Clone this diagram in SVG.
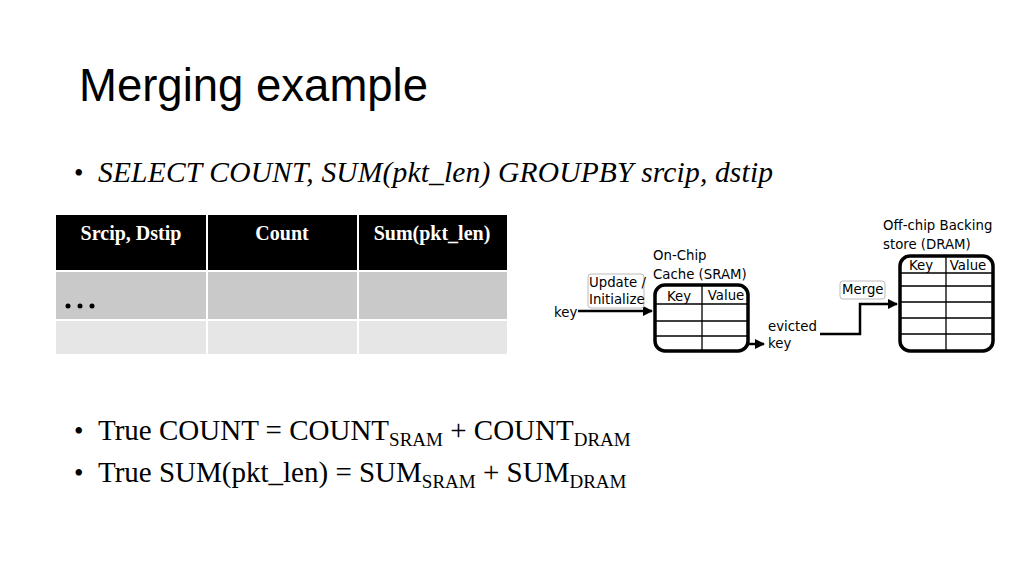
<svg xmlns="http://www.w3.org/2000/svg" width="1024" height="576" viewBox="0 0 1024 576">
<style>
.t{font-family:"Liberation Serif",serif;fill:#000}
.s{font-family:"DejaVu Sans","Noto Sans",sans-serif;font-size:13.3px;fill:#000}
.box{fill:#fff;stroke:#000;stroke-width:3.5}
.g{stroke:#000;stroke-width:1.3}
.c{stroke:#000;stroke-width:2.5;fill:none}
.lbl{fill:#fff;stroke:#bbb;stroke-width:1}
</style>
<defs><marker id="a" viewBox="0 0 10 10" refX="9" refY="5" markerWidth="4" markerHeight="4" orient="auto"><path d="M0 0L10 5L0 10z"/></marker></defs>
<rect width="1024" height="576" fill="#fff"/>
<text x="79" y="101" font-family="'Liberation Sans',sans-serif" font-size="45.5">Merging example</text>
<text x="74" y="182" class="t" font-size="27">•</text>
<text x="98" y="182" class="t" font-size="29.5" font-style="italic" textLength="675">SELECT COUNT, SUM(pkt_len) GROUPBY srcip, dstip</text>
<g id="table">
<rect x="56" y="215" width="150" height="55" fill="#000"/><rect x="208" y="215" width="149" height="55" fill="#000"/><rect x="359" y="215" width="148" height="55" fill="#000"/>
<rect x="56" y="272" width="150" height="47" fill="#c9c9c9"/><rect x="208" y="272" width="149" height="47" fill="#c9c9c9"/><rect x="359" y="272" width="148" height="47" fill="#c9c9c9"/>
<rect x="56" y="321" width="150" height="33" fill="#e6e6e6"/><rect x="208" y="321" width="149" height="33" fill="#e6e6e6"/><rect x="359" y="321" width="148" height="33" fill="#e6e6e6"/>
<g class="t" font-size="20" font-weight="bold" text-anchor="middle"><text x="131" y="240" fill="#fff">Srcip, Dstip</text><text x="282" y="240" fill="#fff">Count</text><text x="432" y="240" fill="#fff">Sum(pkt_len)</text></g>
<g fill="#000"><circle cx="68" cy="306" r="2.5"/><circle cx="80" cy="306" r="2.5"/><circle cx="92" cy="306" r="2.5"/></g>
</g>
<g id="sram">
<text x="653" y="260" class="s">On-Chip</text><text x="653" y="279" class="s">Cache (SRAM)</text>
<rect x="655" y="285" width="93" height="66" rx="10" class="box"/>
<path class="g" d="M702 285V351M655 304H748M655 321H748M655 336H748"/>
<text x="679" y="301" class="s" text-anchor="middle">Key</text><text x="726" y="300" class="s" text-anchor="middle">Value</text>
</g>
<g id="dram">
<text x="883" y="230" class="s">Off-chip Backing</text><text x="883" y="249" class="s">store (DRAM)</text>
<rect x="900" y="256" width="93" height="95" rx="10" class="box"/>
<path class="g" d="M946 256V351M900 273H993M900 286H993M900 302H993M900 318H993M900 334H993"/>
<text x="921" y="270" class="s" text-anchor="middle">Key</text><text x="968" y="270" class="s" text-anchor="middle">Value</text>
</g>
<g id="connectors">
<path class="c" d="M578 311H652" marker-end="url(#a)"/>
<path class="c" d="M746 344H764" marker-end="url(#a)"/>
<path class="c" d="M820 334H860V304H897" marker-end="url(#a)"/>
</g>
<g id="labels">
<text x="554" y="317" class="s">key</text>
<rect x="588" y="274" width="56" height="34" rx="3" class="lbl"/>
<text x="589" y="287" class="s">Update /</text><text x="589" y="304" class="s">Initialize</text>
<rect x="840" y="281" width="45" height="18" rx="3" class="lbl"/>
<text x="842" y="294" class="s">Merge</text>
<text x="768" y="331" class="s">evicted</text><text x="768" y="348" class="s">key</text>
</g>
<text x="74" y="440" class="t" font-size="27">•</text>
<text x="98" y="440" class="t" font-size="29">True COUNT = COUNT<tspan font-size="19" dy="6">SRAM</tspan><tspan dy="-6"> + COUNT</tspan><tspan font-size="19" dy="6">DRAM</tspan></text>
<text x="74" y="482" class="t" font-size="27">•</text>
<text x="98" y="482" class="t" font-size="29">True SUM(pkt_len) = SUM<tspan font-size="19" dy="6">SRAM</tspan><tspan dy="-6"> + SUM</tspan><tspan font-size="19" dy="6">DRAM</tspan></text>
</svg>
